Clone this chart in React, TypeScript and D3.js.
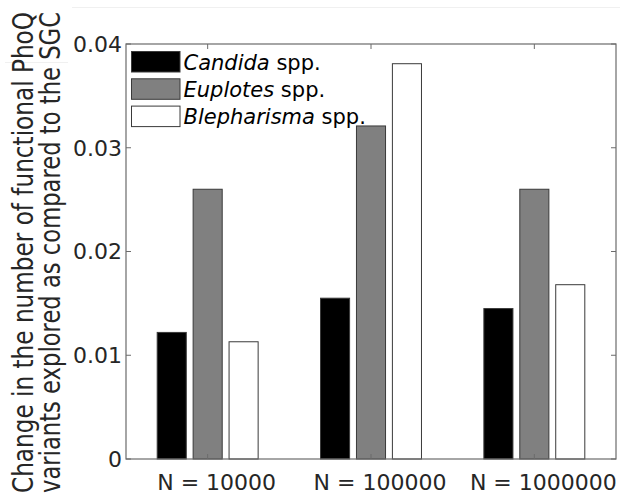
import React from "react";
import * as d3 from "d3";

const groups = ["N = 10000", "N = 100000", "N = 1000000"];
const series = ["Candida", "Euplotes", "Blepharisma"];
const colors = ["#000000", "#808080", "#ffffff"];
const candida = [0.0122, 0.0155, 0.0145];
const euplotes = [0.026, 0.0321, 0.026];
const blepharisma = [0.0113, 0.0381, 0.0168];
const yTicks = [0, 0.01, 0.02, 0.03, 0.04];
const yLabel = ["Change in the number of functional PhoQ", "variants explored as compared to the SGC"];

export default function App() {
  const width = 624;
  const height = 495;
  const m = { left: 126, right: 8, top: 44, bottom: 36 };
  const values = [candida, euplotes, blepharisma];

  const x = d3.scaleLinear().domain([0.5, 3.5]).range([m.left, width - m.right]);
  const y = d3.scaleLinear().domain([0, 0.04]).range([height - m.bottom, m.top]);

  const unit = x(1) - x(0);
  const barW = 0.178 * unit;
  const offset = 0.22;
  const axisColor = "#6b6b6b";
  const textColor = "#262626";
  const font = "DejaVu Sans, Verdana, sans-serif";
  const x0 = m.left;
  const x1 = width - m.right;
  const y0 = y(0);
  const y1 = y(0.04);

  return (
    <svg
      width={width}
      height={height}
      style={{ position: "absolute", left: 0, top: 0, background: "#fff" }}
      fontFamily={font}
    >
      <line x1={72} x2={620} y1={7.5} y2={7.5} stroke="#f0f0f0" />
      <line x1={5} x2={68} y1={62.5} y2={62.5} stroke="#f0f0f0" />

      {/* bars */}
      {groups.map((g, gi) =>
        values.map((vals, si) => {
          const cx = x(gi + 1 + (si - 1) * offset);
          return (
            <rect
              key={g + si}
              x={cx - barW / 2}
              y={y(vals[gi])}
              width={barW}
              height={y0 - y(vals[gi])}
              fill={colors[si]}
              stroke="#3a3a3a"
              strokeWidth={1}
            />
          );
        })
      )}

      {/* box */}
      <rect x={x0} y={y1} width={x1 - x0} height={y0 - y1} fill="none" stroke={axisColor} strokeWidth={1.2} />

      {/* y ticks */}
      {yTicks.map((t) => (
        <g key={t}>
          <line x1={x0} x2={x0 + 5} y1={y(t)} y2={y(t)} stroke={axisColor} />
          <line x1={x1} x2={x1 - 5} y1={y(t)} y2={y(t)} stroke={axisColor} />
          <text x={x0 - 4} y={y(t)} dy="0.36em" textAnchor="end" fontSize={22} fill={textColor}>
            {t === 0 ? "0" : d3.format(".2f")(t)}
          </text>
        </g>
      ))}

      {/* x ticks */}
      {groups.map((g, gi) => (
        <g key={g}>
          <line x1={x(gi + 1)} x2={x(gi + 1)} y1={y0} y2={y0 - 5} stroke={axisColor} />
          <line x1={x(gi + 1)} x2={x(gi + 1)} y1={y1} y2={y1 + 5} stroke={axisColor} />
          <text x={x(gi + 1) + 9} y={y0 + 31} textAnchor="middle" fontSize={22} fill={textColor}>
            {g}
          </text>
        </g>
      ))}

      {/* y label */}
      <g transform={`translate(33,253) rotate(-90)`}>
        {yLabel.map((line, i) => (
          <text
            key={line}
            x={-240}
            y={i * 27}
            fontSize={28}
            fill={textColor}
            textLength={481}
            lengthAdjust="spacingAndGlyphs"
          >
            {line}
          </text>
        ))}
      </g>

      {/* legend */}
      {series.map((s, si) => (
        <g key={s} transform={`translate(131.5,${51.5 + si * 27.3})`}>
          <rect width={48.5} height={20.5} fill={colors[si]} stroke="#3a3a3a" />
          <text x={52} y={18} fontSize={21} fill="#000">
            <tspan fontStyle="italic">{s}</tspan> spp.
          </text>
        </g>
      ))}
    </svg>
  );
}
